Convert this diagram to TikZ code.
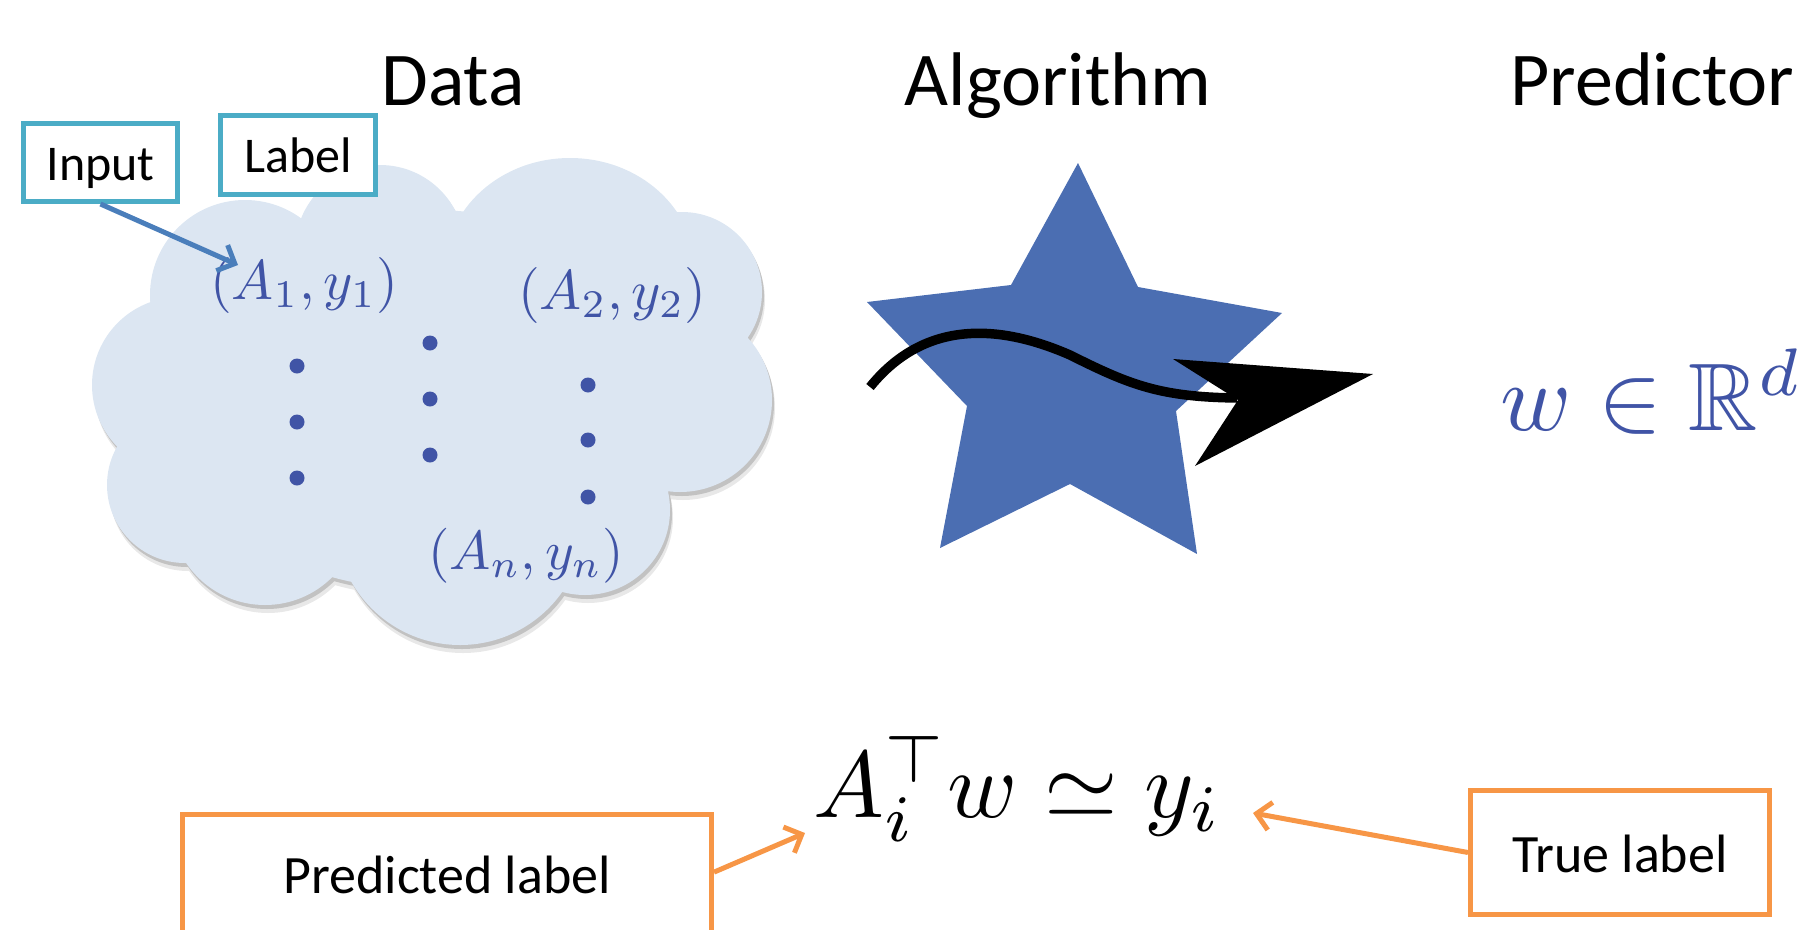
\RequirePackage{fix-cm}
\documentclass[tikz,border=0pt]{standalone}
\usepackage{amssymb}
\usepackage{graphicx}
\usepackage{fontspec}
\setmainfont{Carlito}
\usetikzlibrary{arrows.meta,calc}

\definecolor{cloudfill}{RGB}{220,230,242}
\definecolor{mathblue}{RGB}{64,84,166}
\definecolor{starblue}{RGB}{75,110,178}
\definecolor{tealc}{RGB}{75,172,198}
\definecolor{inblue}{RGB}{74,126,187}
\definecolor{orangec}{RGB}{247,150,70}

% puffs of the data cloud: x/y/x-radius/y-radius
\def\puffs{245/295/95/95, 380/250/85/85, 570/270/125/112, 682/292/80/80,
  680/400/92/92, 585/510/85/85, 460/520/125/125, 265/510/95/95,
  185/485/78/78, 180/385/88/88, 430/400/270/190}

% math set at 10pt and enlarged
\newcommand\bigmath[2]{\scalebox{#1}{\fontsize{10}{12}\selectfont$#2$}}

\begin{document}
\begin{tikzpicture}[x=1pt,y=-1pt,
  title/.style={anchor=base, inner sep=0pt, font=\fontsize{76}{80}\selectfont},
  cloudmath/.style={anchor=base west, inner sep=0pt, text=mathblue},
  dot/.style={circle, fill=mathblue, inner sep=0pt, minimum size=15pt},
  tealbox/.style={draw=tealc, line width=5pt, fill=white, anchor=base, inner sep=0pt,
    font=\fontsize{50}{54}\selectfont},
  orangebox/.style={draw=orangec, line width=5pt, fill=white, anchor=base, inner sep=0pt,
    font=\fontsize{54}{58}\selectfont},
  inarrow/.style={draw=inblue, line width=5pt, -{Straight Barb[length=14pt,width=28pt]}},
  orarrow/.style={draw=orangec, line width=5pt, -{Straight Barb[length=14pt,width=28pt]}}
]
\useasboundingbox (0,0) rectangle (1804,929);
\clip (0,0) rectangle (1804,929);

% titles
\node[title] (tdata) at (453,105) {Data};
\node[title] (talg) at (1058,105) {Algorithm};
\node[title] (tpred) at (1652,105) {Predictor};

% cloud: soft shadow then body
\begin{scope}[shift={(3,8)}]
  \fill[black!9] foreach \a/\b/\c/\d in \puffs {(\a,\b) circle [x radius=\c, y radius=\d]};
\end{scope}
\begin{scope}[shift={(2,4)}]
  \fill[black!24] foreach \a/\b/\c/\d in \puffs {(\a,\b) circle [x radius=\c, y radius=\d]};
\end{scope}
\fill[cloudfill] foreach \a/\b/\c/\d in \puffs {(\a,\b) circle [x radius=\c, y radius=\d]};

% data points
\node[cloudmath] (p1) at (210,299) {\bigmath{5.6}{(A_1,y_1)}};
\node[cloudmath] (p2) at (518,309) {\bigmath{5.6}{(A_2,y_2)}};
\node[cloudmath] (pn) at (428,569) {\bigmath{5.5}{(A_n,y_n)}};
\node[dot] (d11) at (297,366) {};
\node[dot] (d12) at (297,422) {};
\node[dot] (d13) at (297,478) {};
\node[dot] (d21) at (430,343) {};
\node[dot] (d22) at (430,399) {};
\node[dot] (d23) at (430,455) {};
\node[dot] (d31) at (588,385) {};
\node[dot] (d32) at (588,440) {};
\node[dot] (d33) at (588,497) {};

% callouts on the cloud
\node[tealbox, text height=56.5pt, text depth=21.5pt, minimum width=154pt] (ibox) at (100.5,180) {Input};
\node[tealbox, text height=56.5pt, text depth=22.5pt, minimum width=155pt] (lbox) at (298,172) {Label};
\coordinate (atip) at (238,265);
\draw[inarrow] (ibox.south) -- (atip);

% algorithm star with the wavy arrow
\fill[starblue] (1078,163) -- (1138,287) -- (1282,313) -- (1176,411) -- (1197,554)
  -- (1070,484) -- (940,548) -- (967,406) -- (867,302) -- (1011,285) -- cycle;
\coordinate (ws) at (870,387);
\coordinate (wm) at (1070,355);
\coordinate (we) at (1237,398);
\draw[line width=9.5pt] (ws) .. controls (920,325) and (990,320) .. (wm)
  .. controls (1130,385) and (1160,397) .. (we);
\coordinate (hb1) at (1173,359);
\coordinate (htip) at (1373,374);
\coordinate (hb2) at (1195,466);
\coordinate (hn) at (1238,400);
\fill (hb1) -- (htip) -- (hb2) -- (hn) -- cycle;

% predictor
\node[anchor=base west, inner sep=0pt, text=mathblue]
  (wrd) at (1500,430) {\bigmath{9.6}{w \in \mathbb{R}^d}};

% prediction vs truth
\node[anchor=base west, inner sep=0pt]
  (form) at (813,817) {\bigmath{9.45}{A_i^{\top} w \simeq y_i}};
\node[orangebox, text height=78.5pt, text depth=117pt, minimum width=529pt] (pbox) at (447,893) {Predicted label};
\node[orangebox, text height=81.5pt, text depth=42.5pt, minimum width=299pt] (tbox) at (1620,872) {True label};
\coordinate (ftip) at (805,833);
\coordinate (ytip) at (1253,813);
\draw[orarrow] ($(pbox.north east)!0.3!(pbox.south east)$) -- (ftip);
\draw[orarrow] (tbox.west) -- (ytip);
\end{tikzpicture}
\end{document}
